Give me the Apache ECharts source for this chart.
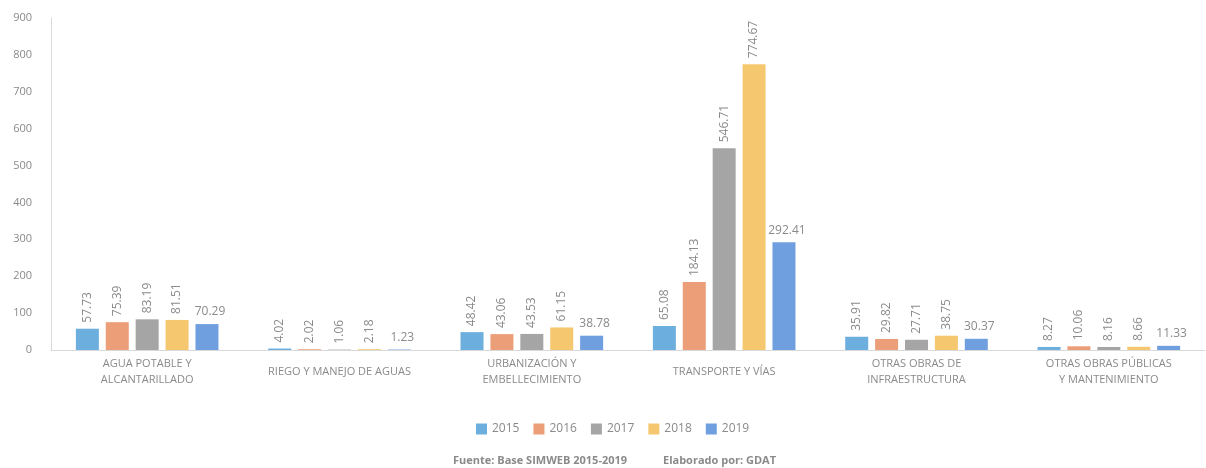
<!DOCTYPE html>
<html>
<head>
<meta charset="utf-8">
<script src="https://cdn.jsdelivr.net/npm/echarts@6/dist/echarts.min.js"></script>
<style>
  html, body { margin: 0; padding: 0; background: #fff; }
  #chart { width: 1206px; height: 468px; }
</style>
</head>
<body>
<div id="chart"></div>
<script>
// datos
const categorias = [
    'AGUA POTABLE Y\nALCANTARILLADO',
    'RIEGO Y MANEJO DE AGUAS',
    'URBANIZACIÓN Y\nEMBELLECIMIENTO',
    'TRANSPORTE Y VÍAS',
    'OTRAS OBRAS DE\nINFRAESTRUCTURA',
    'OTRAS OBRAS PÚBLICAS\nY MANTENIMIENTO'
];
const anios = ['2015', '2016', '2017', '2018', '2019'];
const v2015 = [57.73, 4.02, 48.42, 65.08, 35.91, 8.27];
const v2016 = [75.39, 2.02, 43.06, 184.13, 29.82, 10.06];
const v2017 = [83.19, 1.06, 43.53, 546.71, 27.71, 8.16];
const v2018 = [81.51, 2.18, 61.15, 774.67, 38.75, 8.66];
const v2019 = [70.29, 1.23, 38.78, 292.41, 30.37, 11.33];
const colores = ['#6caedd', '#eb9e77', '#a5a5a5', '#f5c76f', '#709fe0'];

const valores = [v2015, v2016, v2017, v2018, v2019];
const FONT = '"Open Sans", sans-serif';
const GRIS = '#8a8a8a';

const chart = echarts.init(document.getElementById('chart'));

const series = anios.map((anio, i) => {
    const ultimo = i === anios.length - 1;
    return {
        name: anio,
        type: 'bar',
        data: valores[i],
        barWidth: 23,
        barGap: '30%',
        itemStyle: { color: colores[i] },
        label: {
            show: true,
            position: 'top',
            distance: 6,
            rotate: ultimo ? 0 : 90,
            align: ultimo ? 'center' : 'left',
            verticalAlign: ultimo ? 'bottom' : 'middle',
            offset: ultimo ? [3, 0] : [0, 0],
            color: GRIS,
            fontFamily: FONT,
            fontSize: 12,
            formatter: (p) => p.value.toFixed(2)
        }
    };
});

const option = {
    backgroundColor: '#fff',
    animation: false,
    textStyle: { fontFamily: FONT },
    grid: { left: 51, right: 1, top: 18, bottom: 118 },
    legend: {
        data: anios,
        bottom: 28,
        left: 471,
        itemWidth: 11,
        itemHeight: 11,
        itemGap: 14,
        icon: 'rect',
        textStyle: { color: GRIS, fontSize: 12, fontFamily: FONT }
    },
    xAxis: {
        type: 'category',
        data: categorias,
        axisLine: { lineStyle: { color: '#d9d9d9', width: 1 } },
        axisTick: { show: false },
        axisLabel: {
            color: GRIS,
            fontSize: 11,
            fontFamily: FONT,
            lineHeight: 16,
            margin: 22,
            verticalAlign: 'middle',
            interval: 0
        }
    },
    yAxis: {
        type: 'value',
        min: 0,
        max: 900,
        interval: 100,
        axisLine: { show: true, lineStyle: { color: '#d9d9d9' } },
        axisTick: { show: false },
        splitLine: { show: false },
        axisLabel: { color: GRIS, fontSize: 11, fontFamily: FONT, margin: 19 }
    },
    graphic: [
        {
            type: 'text', left: 453, top: 455,
            style: { text: 'Fuente: Base SIMWEB 2015-2019', fill: GRIS, font: 'bold 11px "Open Sans", sans-serif' }
        },
        {
            type: 'text', left: 663, top: 455,
            style: { text: 'Elaborado por: GDAT', fill: GRIS, font: 'bold 11px "Open Sans", sans-serif' }
        }
    ],
    series: series
};

chart.setOption(option);
</script>
</body>
</html>
